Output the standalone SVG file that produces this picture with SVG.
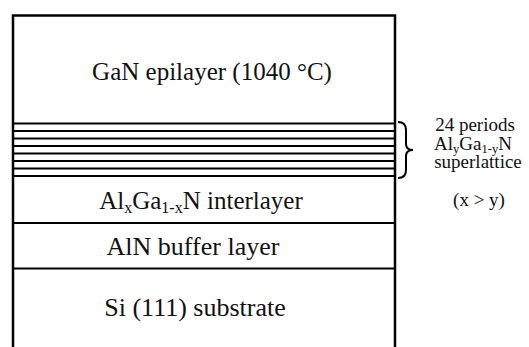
<svg xmlns="http://www.w3.org/2000/svg" width="529" height="347" viewBox="0 0 529 347">
<style>
.frame{fill:none;stroke:#000;stroke-width:2.5}
.ln{stroke:#000;stroke-width:2.2}
.sl{stroke:#000;stroke-width:2}
.t{font-family:"Liberation Serif","Times New Roman",serif;fill:#111;text-anchor:middle}
.big{font-size:25px}
.mid{font-size:26px}
.small{font-size:19px}
</style>
<rect width="529" height="347" fill="#fff"/>
<g id="frame">
<path class="frame" d="M13,347 L13,15.5 L395,15.5 L395,347"/>
</g>
<g id="gan-epilayer">
<text class="t big" x="212" y="80">GaN epilayer (1040 °C)</text>
</g>
<g id="superlattice">
<line class="sl" x1="13" y1="123.5" x2="395" y2="123.5"/>
<line class="sl" x1="13" y1="131" x2="395" y2="131"/>
<line class="sl" x1="13" y1="138.5" x2="395" y2="138.5"/>
<line class="sl" x1="13" y1="146" x2="395" y2="146"/>
<line class="sl" x1="13" y1="153.5" x2="395" y2="153.5"/>
<line class="sl" x1="13" y1="161" x2="395" y2="161"/>
<line class="sl" x1="13" y1="168.5" x2="395" y2="168.5"/>
<line class="sl" x1="13" y1="176" x2="395" y2="176"/>
</g>
<g id="interlayer">
<line class="ln" x1="13" y1="223" x2="395" y2="223"/>
<text class="t" font-size="25" x="201" y="209">Al<tspan font-size="16" dy="4">x</tspan><tspan dy="-4">Ga</tspan><tspan font-size="16" dy="4">1-x</tspan><tspan dy="-4">N interlayer</tspan></text>
</g>
<g id="aln-buffer">
<line class="ln" x1="13" y1="268.5" x2="395" y2="268.5"/>
<text class="t mid" x="193" y="255">AlN buffer layer</text>
</g>
<g id="si-substrate">
<text class="t mid" x="195" y="316">Si (111) substrate</text>
</g>
<g id="connectors">
<path d="M398,122 Q406,122 406,130 L406,144 Q406,150 413,150 Q406,150 406,156 L406,170 Q406,178 398,178" fill="none" stroke="#000" stroke-width="2"/>
</g>
<g id="sl-label">
<text class="t small" x="475" y="131">24 periods</text>
<text class="t small" x="473" y="150">Al<tspan font-size="12.5" dy="3">y</tspan><tspan dy="-3">Ga</tspan><tspan font-size="12.5" dy="3">1-y</tspan><tspan dy="-3">N</tspan></text>
<text class="t small" x="478" y="168">superlattice</text>
<text class="t small" x="479" y="206">(x &gt; y)</text>
</g>
</svg>
